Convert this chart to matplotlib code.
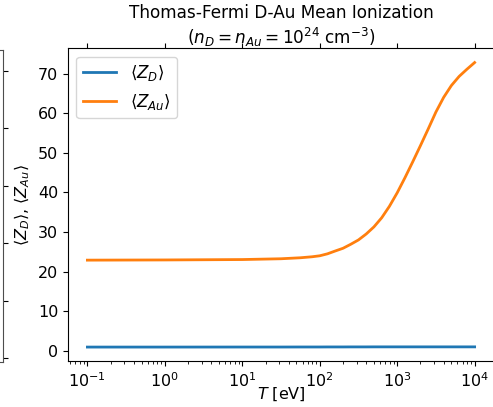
import numpy as np
import matplotlib
matplotlib.use("Agg")
import matplotlib.pyplot as plt

# temperatures [eV] and mean ionization
T_eV = [0.1, 1, 10, 31.6, 56.2, 79.4, 100, 126, 158, 200, 251, 316, 398,
        501, 631, 794, 1000, 1259, 1585, 1995, 2512, 3162, 3981, 5012,
        6310, 7943, 10000]
Z_Au = [22.9, 22.95, 23.05, 23.25, 23.5, 23.75, 24.0, 24.5, 25.2, 25.9,
        26.9, 28.0, 29.5, 31.3, 33.6, 36.5, 39.9, 43.7, 47.7, 51.8, 56.0,
        60.3, 64.0, 67.0, 69.3, 71.1, 72.8]
Z_D = [0.95, 0.95, 0.96, 0.96, 0.97, 0.97, 0.97, 0.98, 0.98, 0.98, 0.99,
       0.99, 0.99, 1.0, 1.0, 1.0, 1.0, 1.0, 1.0, 1.0, 1.0, 1.0, 1.0, 1.0,
       1.0, 1.0, 1.0]

# edge of the neighbouring panel that shows on the left of the crop
neighbour_ticks = [0.0, 0.2, 0.4, 0.6, 0.8, 1.0]

plt.rcParams["font.size"] = 11.5

fig = plt.figure(figsize=(4.93, 4.07), dpi=100)

ax_left = fig.add_axes([-0.5, 0.111, 0.5067, 0.766])
ax_left.set_xticks([])
ax_left.yaxis.tick_right()
ax_left.set_ylim(-0.013, 1.073)
ax_left.set_yticks(neighbour_ticks)
ax_left.set_yticklabels([])
for s in ax_left.spines.values():
    s.set_color("0.3")

ax = fig.add_axes([0.138, 0.1123, 0.864, 0.769])
ax.plot(T_eV, Z_D, lw=2, label=r"$\langle Z_D \rangle$")
ax.plot(T_eV, Z_Au, lw=2, label=r"$\langle Z_{Au} \rangle$")
ax.set_xscale("log")
ax.set_xticks([1e-1, 1e0, 1e1, 1e2, 1e3, 1e4])
ax.tick_params(which="major", top=True)
ax.set_xlabel(r"$T$ [eV]", labelpad=-3)
ax.set_ylabel(r"$\langle Z_D \rangle$, $\langle Z_{Au} \rangle$")
ax.set_title("Thomas-Fermi D-Au Mean Ionization\n"
             r"($n_D = n_{Au} = 10^{24}$ cm$^{-3}$)", fontsize=12.2, pad=3)
ax.legend(loc="upper left", fontsize=12)

fig.savefig("out.png", dpi=100)
